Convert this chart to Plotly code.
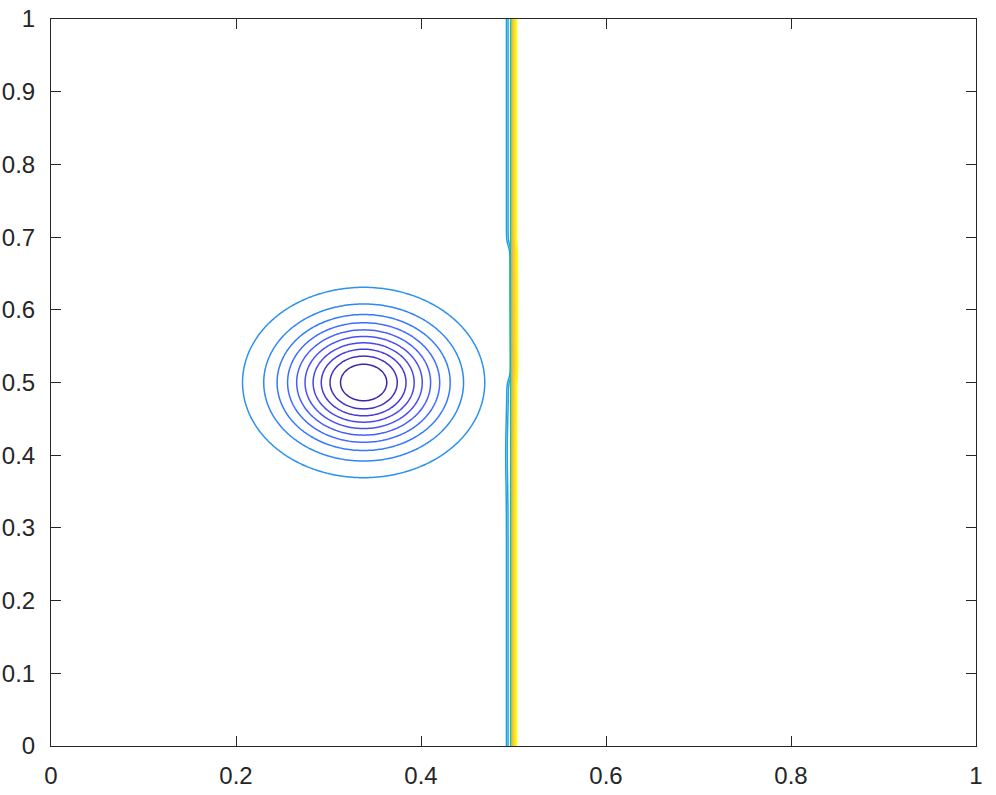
import numpy as np
import plotly.graph_objects as go

# ---- data / model parameters ----
x_ticks = [0, 0.2, 0.4, 0.6, 0.8, 1]
x_tick_labels = ["0", "0.2", "0.4", "0.6", "0.8", "1"]
y_ticks = [0, 0.1, 0.2, 0.3, 0.4, 0.5, 0.6, 0.7, 0.8, 0.9, 1]
y_tick_labels = ["0", "0.1", "0.2", "0.3", "0.4", "0.5", "0.6", "0.7", "0.8", "0.9", "1"]

level_step = 1 / 30
level_count = 29            # levels k*step, k = 1..29
left_state = 0.358          # value left of the discontinuity
right_state = 1.0           # value right of the discontinuity
vortex_center = [0.338, 0.5]
vortex_sigma = 0.0566
vortex_depth = 0.358        # dip below left state at vortex center
# discontinuity: [amplitude, position, width] of the three layers of the profile
shock_amps = [0.09, 0.61, 0.30]
shock_pos = [0.4935, 0.4982, 0.5016]
shock_width = [0.0013, 0.0008, 0.0022]
# y-band where the foot is pulled into the front, and lower bulge
foot_band = [0.505, 0.688]
foot_shift = 0.004
bulge_center = 0.41
bulge_shift = -0.001

# MATLAB parula (64 entries)
parula = [[0.2422, 0.1504, 0.6603], [0.2504, 0.1650, 0.7076], [0.2578, 0.1818, 0.7511], [0.2647, 0.1978, 0.7952],
          [0.2706, 0.2147, 0.8364], [0.2751, 0.2342, 0.8710], [0.2783, 0.2559, 0.8991], [0.2803, 0.2782, 0.9221],
          [0.2813, 0.3006, 0.9414], [0.2810, 0.3228, 0.9579], [0.2795, 0.3447, 0.9717], [0.2760, 0.3667, 0.9829],
          [0.2699, 0.3892, 0.9906], [0.2602, 0.4123, 0.9952], [0.2440, 0.4358, 0.9988], [0.2206, 0.4603, 0.9973],
          [0.1963, 0.4847, 0.9892], [0.1834, 0.5074, 0.9798], [0.1786, 0.5289, 0.9682], [0.1764, 0.5499, 0.9520],
          [0.1687, 0.5703, 0.9359], [0.1540, 0.5902, 0.9218], [0.1460, 0.6091, 0.9079], [0.1380, 0.6276, 0.8973],
          [0.1248, 0.6459, 0.8883], [0.1113, 0.6635, 0.8763], [0.0952, 0.6798, 0.8598], [0.0689, 0.6948, 0.8394],
          [0.0297, 0.7082, 0.8163], [0.0036, 0.7203, 0.7917], [0.0067, 0.7312, 0.7660], [0.0433, 0.7411, 0.7394],
          [0.0964, 0.7500, 0.7120], [0.1408, 0.7584, 0.6842], [0.1717, 0.7670, 0.6554], [0.1938, 0.7758, 0.6251],
          [0.2161, 0.7843, 0.5923], [0.2470, 0.7918, 0.5567], [0.2906, 0.7973, 0.5188], [0.3406, 0.8008, 0.4789],
          [0.3909, 0.8029, 0.4354], [0.4456, 0.8024, 0.3909], [0.5044, 0.7993, 0.3480], [0.5616, 0.7942, 0.3045],
          [0.6174, 0.7876, 0.2612], [0.6720, 0.7793, 0.2227], [0.7242, 0.7698, 0.1910], [0.7738, 0.7598, 0.1646],
          [0.8203, 0.7498, 0.1535], [0.8634, 0.7406, 0.1596], [0.9035, 0.7330, 0.1774], [0.9393, 0.7288, 0.2100],
          [0.9728, 0.7298, 0.2394], [0.9956, 0.7434, 0.2371], [0.9970, 0.7659, 0.2199], [0.9952, 0.7893, 0.2028],
          [0.9892, 0.8136, 0.1885], [0.9786, 0.8386, 0.1766], [0.9676, 0.8639, 0.1643], [0.9610, 0.8890, 0.1537],
          [0.9597, 0.9135, 0.1423], [0.9628, 0.9373, 0.1265], [0.9691, 0.9606, 0.1064], [0.9769, 0.9839, 0.0805]]
colorscale = [[i / (len(parula) - 1), "rgb(%d,%d,%d)" % tuple(int(round(c * 255)) for c in col)]
              for i, col in enumerate(parula)]

# ---- grid (refined around the discontinuity) ----
x = np.concatenate([np.arange(0, 0.485, 0.002), np.arange(0.485, 0.52, 0.0001), np.arange(0.52, 1.00001, 0.002)])
y = np.linspace(0, 1, 401)
X, Y = np.meshgrid(x, y)


def step(u):
    return 0.5 * (1 + np.tanh(u))


band = step((Y - foot_band[0]) / 0.008) * step((foot_band[1] - Y) / 0.008)
bulge = np.exp(-((Y - bulge_center) / 0.06) ** 2)
offsets = [foot_shift * band + bulge_shift * bulge, 0 * Y, 0.001 * band]

P = np.zeros_like(X)
for a, p0, w, off in zip(shock_amps, shock_pos, shock_width, offsets):
    P += a * step((X - (p0 + off)) / w)

r2 = (X - vortex_center[0]) ** 2 + (Y - vortex_center[1]) ** 2
Z = left_state + (right_state - left_state) * P - vortex_depth * np.exp(-r2 / (2 * vortex_sigma ** 2))
Z = np.round(Z, 4)

first_level = level_step
last_level = level_step * level_count

fig = go.Figure(go.Contour(
    x=x, y=y, z=Z,
    contours=dict(coloring="lines", start=first_level, end=last_level + 1e-9, size=level_step),
    colorscale=colorscale, zauto=False, zmin=first_level, zmax=last_level,
    line=dict(width=1.5), showscale=False, hoverinfo="skip",
))

axis_common = dict(
    showline=True, linecolor="#262626", linewidth=1, mirror="ticks",
    ticks="inside", ticklen=10, tickwidth=1, tickcolor="#262626",
    showgrid=False, zeroline=False, automargin=False,
    tickfont=dict(family="Liberation Sans, Arial, sans-serif", size=24, color="#262626"),
)
fig.update_xaxes(range=[0, 1], tickvals=x_ticks, ticktext=x_tick_labels, ticklabelstandoff=8, **axis_common)
fig.update_yaxes(range=[0, 1], tickvals=y_ticks, ticktext=y_tick_labels, ticklabelstandoff=10, **axis_common)

fig.update_layout(
    width=996, height=795,
    margin=dict(l=51, r=20, t=19, b=49),
    paper_bgcolor="white", plot_bgcolor="white",
    showlegend=False,
)
fig.write_html(
    "out.html",
    config={"displayModeBar": False},
    post_script="document.body.style.margin='0';document.body.style.overflow='hidden';",
)
